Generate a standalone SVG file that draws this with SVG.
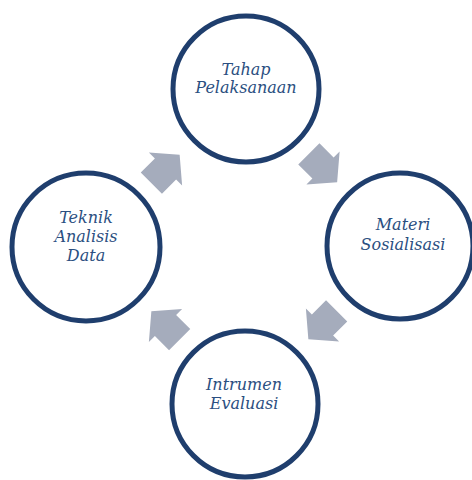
<svg xmlns="http://www.w3.org/2000/svg" width="472" height="480" viewBox="0 0 472 480">
<defs>
<style>
.node circle{fill:#ffffff;stroke:#1f3e6d;stroke-width:5}
.node text{font-family:"DejaVu Serif","Liberation Serif",serif;font-style:italic;font-size:16px;fill:#2b4f81;text-anchor:middle}
.arrow{fill:#a5acbc}
</style>
<polygon id="arr" points="-20,-15 0,-15 0,-23.5 20,0 0,23.5 0,15 -20,15"/>
</defs>
<rect width="472" height="480" fill="#ffffff"/>
<g id="connectors">
<use href="#arr" class="arrow" transform="translate(165.5,169) rotate(-45)"/>
<use href="#arr" class="arrow" transform="translate(323,168) rotate(45)"/>
<use href="#arr" class="arrow" transform="translate(322.5,325) rotate(135)"/>
<use href="#arr" class="arrow" transform="translate(165.5,325.5) rotate(-135)"/>
</g>
<g id="tahap" class="node">
<circle cx="246" cy="89" r="73"/>
<text x="246" y="75">Tahap</text>
<text x="246" y="93">Pelaksanaan</text>
</g>
<g id="materi" class="node">
<circle cx="400" cy="246" r="73"/>
<text x="403" y="230">Materi</text>
<text x="403" y="250">Sosialisasi</text>
</g>
<g id="instrumen" class="node">
<circle cx="245" cy="404" r="73"/>
<text x="244" y="390">Intrumen</text>
<text x="244" y="409">Evaluasi</text>
</g>
<g id="teknik" class="node">
<circle cx="86" cy="247" r="74"/>
<text x="86" y="223">Teknik</text>
<text x="86" y="242">Analisis</text>
<text x="86" y="261">Data</text>
</g>
</svg>
